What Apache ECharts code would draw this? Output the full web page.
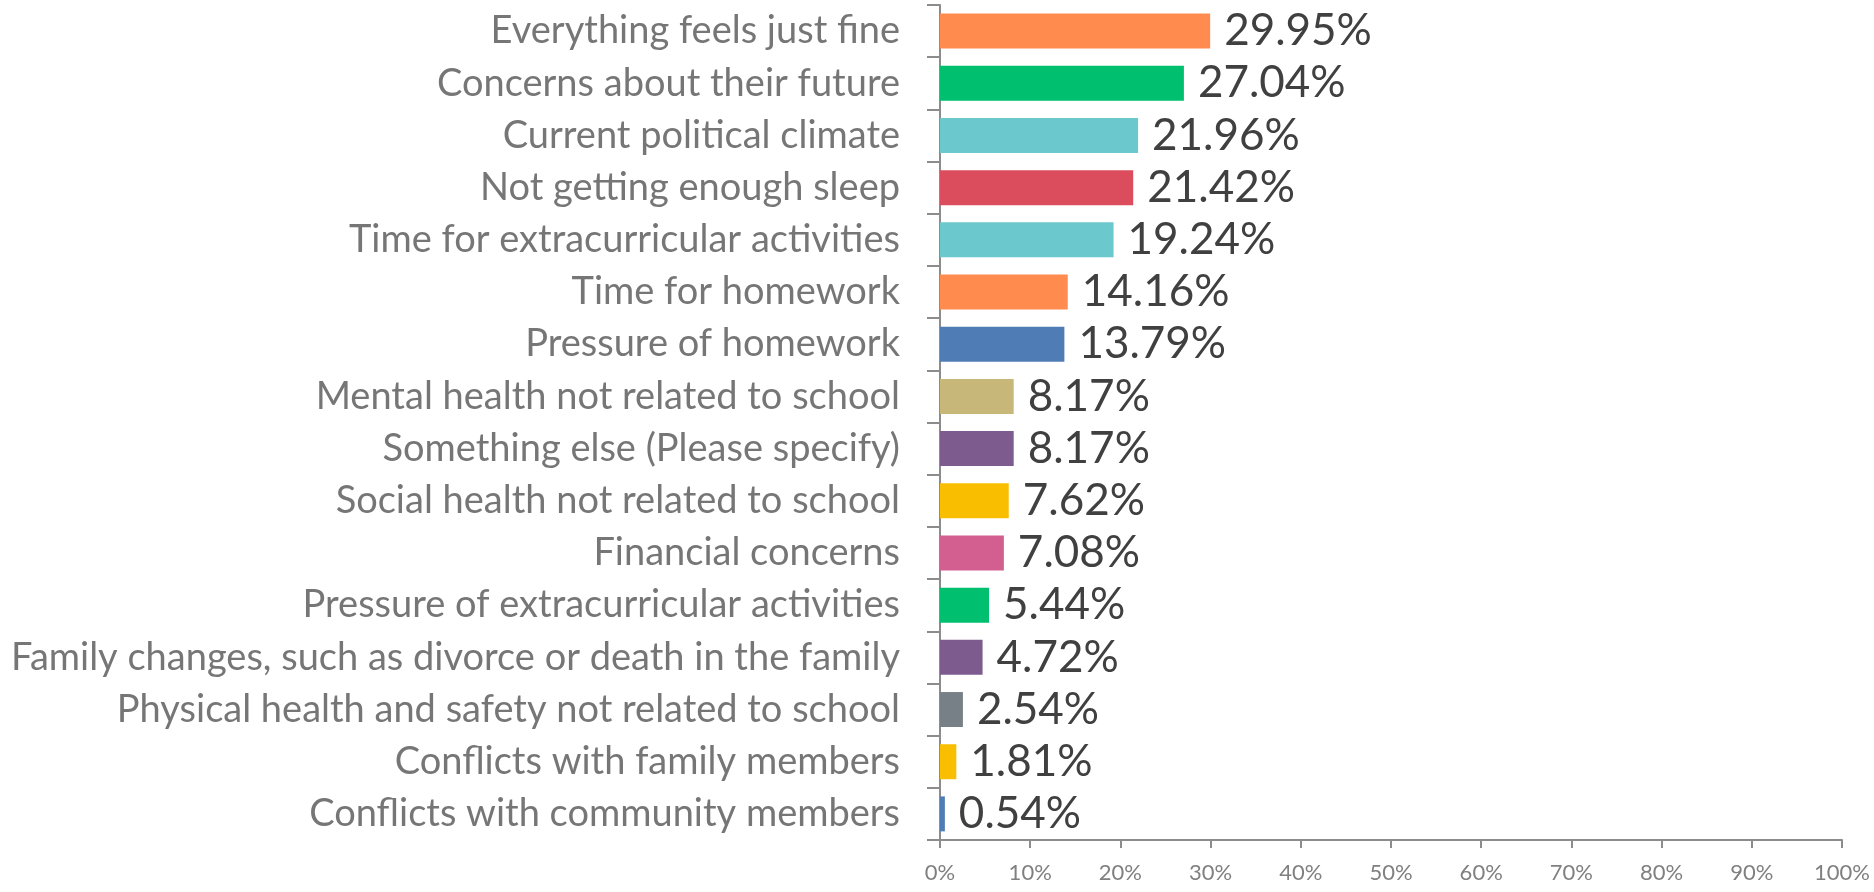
<!DOCTYPE html>
<html>
<head>
<meta charset="utf-8">
<script src="https://cdn.jsdelivr.net/npm/echarts@6/dist/echarts.min.js"></script>
<style>
  html, body { margin: 0; padding: 0; background: #fff; }
  #chart { width: 1874px; height: 892px; }
</style>
</head>
<body>
<div id="chart"></div>
<script>
// answers, top to bottom
const categories = [
  "Everything feels just fine",
  "Concerns about their future",
  "Current political climate",
  "Not getting enough sleep",
  "Time for extracurricular activities",
  "Time for homework",
  "Pressure of homework",
  "Mental health not related to school",
  "Something else (Please specify)",
  "Social health not related to school",
  "Financial concerns",
  "Pressure of extracurricular activities",
  "Family changes, such as divorce or death in the family",
  "Physical health and safety not related to school",
  "Conflicts with family members",
  "Conflicts with community members"
];
const shares = [29.95, 27.04, 21.96, 21.42, 19.24, 14.16, 13.79, 8.17, 8.17, 7.62, 7.08, 5.44, 4.72, 2.54, 1.81, 0.54];
const barColors = [
  "#FF8B4F", "#00BF6F", "#6BC8CD", "#DB4D5C", "#6BC8CD", "#FF8B4F", "#507CB6", "#C7B879",
  "#7D5B8F", "#F9BE00", "#D25F90", "#00BF6F", "#7D5B8F", "#768086", "#F9BE00", "#507CB6"
];
const xTicks = [0, 10, 20, 30, 40, 50, 60, 70, 80, 90, 100];

const chart = echarts.init(document.getElementById("chart"));
chart.setOption({
  animation: false,
  grid: { left: 940, right: 32, top: 5, bottom: 52 },
  xAxis: {
    type: "value",
    min: xTicks[0],
    max: xTicks[xTicks.length - 1],
    interval: 10,
    splitLine: { show: false },
    axisLine: { show: true, lineStyle: { color: "#8c8c8c", width: 2 } },
    axisTick: { show: true, length: 8, lineStyle: { color: "#8c8c8c", width: 2 } },
    axisLabel: {
      margin: 22,
      formatter: "{value}%",
      color: "#808080",
      fontFamily: "Lato",
      fontSize: 22
    }
  },
  yAxis: {
    type: "category",
    inverse: true,
    data: categories,
    axisLine: { show: true, lineStyle: { color: "#8c8c8c", width: 2 } },
    axisTick: { show: true, length: 13, lineStyle: { color: "#8c8c8c", width: 2 } },
    axisLabel: {
      margin: 40,
      color: "#767676",
      fontFamily: "Lato",
      fontSize: 38
    }
  },
  series: [{
    type: "bar",
    barCategoryGap: "33%",
    data: shares.map((v, i) => ({ value: v, itemStyle: { color: barColors[i] } })),
    label: {
      show: true,
      position: "right",
      distance: 14,
      formatter: p => p.value.toFixed(2) + "%",
      color: "#404040",
      fontFamily: "Lato",
      fontSize: 44
    }
  }]
});
</script>
</body>
</html>
